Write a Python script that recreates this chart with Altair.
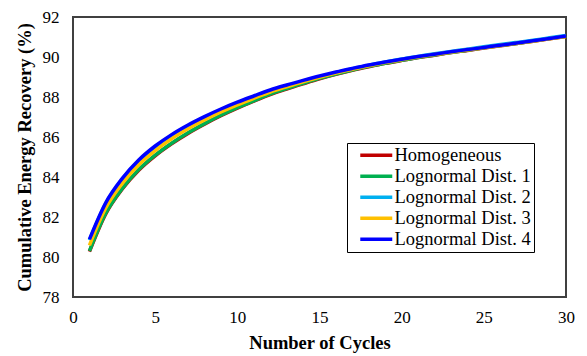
import altair as alt
import pandas as pd

cycles = list(range(1, 31))

homogeneous = [80.27, 82.17, 83.40, 84.34, 85.06, 85.66, 86.18, 86.64, 87.06, 87.44,
               87.79, 88.12, 88.40, 88.66, 88.91, 89.13, 89.33, 89.51, 89.68, 89.83,
               89.97, 90.09, 90.22, 90.33, 90.45, 90.56, 90.67, 90.79, 90.91, 91.03]
dist1 = [80.30, 82.20, 83.43, 84.37, 85.09, 85.69, 86.21, 86.67, 87.09, 87.47,
         87.81, 88.14, 88.42, 88.68, 88.93, 89.15, 89.35, 89.53, 89.69, 89.84,
         89.98, 90.10, 90.23, 90.34, 90.46, 90.57, 90.68, 90.80, 90.92, 91.04]
dist2 = [80.84, 82.68, 83.89, 84.81, 85.51, 86.08, 86.56, 86.98, 87.36, 87.70,
         88.01, 88.31, 88.56, 88.79, 89.01, 89.22, 89.41, 89.59, 89.75, 89.90,
         90.03, 90.16, 90.28, 90.39, 90.51, 90.62, 90.73, 90.84, 90.96, 91.08]
dist3 = [80.58, 82.46, 83.68, 84.61, 85.32, 85.91, 86.41, 86.85, 87.25, 87.61,
         87.93, 88.25, 88.51, 88.76, 88.99, 89.20, 89.39, 89.56, 89.72, 89.86,
         90.00, 90.12, 90.24, 90.35, 90.46, 90.57, 90.68, 90.79, 90.91, 91.03]
dist4 = [80.88, 82.72, 83.93, 84.85, 85.55, 86.12, 86.60, 87.02, 87.40, 87.74,
         88.05, 88.35, 88.60, 88.83, 89.05, 89.25, 89.43, 89.60, 89.75, 89.89,
         90.02, 90.14, 90.26, 90.37, 90.48, 90.59, 90.70, 90.81, 90.93, 91.05]

series_names = ["Homogeneous", "Lognormal Dist. 1", "Lognormal Dist. 2",
                "Lognormal Dist. 3", "Lognormal Dist. 4"]
series_values = [homogeneous, dist1, dist2, dist3, dist4]
series_colors = ["#C00000", "#00B050", "#00B0F0", "#FFC000", "#0000FF"]

x_ticks = [0, 5, 10, 15, 20, 25, 30]
y_ticks = [78, 80, 82, 84, 86, 88, 90, 92]

rows = []
for name, vals in zip(series_names, series_values):
    for c, v in zip(cycles, vals):
        rows.append({"Cycle": c, "Recovery": v, "Series": name})
df = pd.DataFrame(rows)

SERIF = "Liberation Serif"

color_scale = alt.Scale(domain=series_names, range=series_colors)
legend = alt.Legend(
    title=None, orient="none", legendX=274, legendY=126,
    strokeColor="black", fillColor="white", padding=3,
    labelFont=SERIF, labelFontSize=18.5, labelColor="black",
    labelExpr="datum.label + '\u00a0\u00a0'",
    symbolType="M0.17,0H5.5", symbolSize=144, symbolStrokeWidth=3.5,
    labelOffset=26, rowPadding=2,
)

x_enc = alt.X("Cycle:Q", scale=alt.Scale(domain=[0, 30], nice=False),
              axis=alt.Axis(values=x_ticks, title="Number of Cycles", grid=False,
                            ticks=False, tickSize=0, domain=False, labelPadding=12,
                            labelFlush=False,
                            labelFont=SERIF, labelFontSize=17, labelColor="black",
                            titleFont=SERIF, titleFontSize=18.5, titleFontWeight="bold",
                            titleColor="black", titlePadding=8))
y_enc = alt.Y("Recovery:Q", scale=alt.Scale(domain=[78, 92], nice=False),
              axis=alt.Axis(values=y_ticks, title="Cumulative Energy Recovery (%)",
                            grid=False, ticks=False, tickSize=0, domain=False,
                            labelPadding=14, labelFlush=False,
                            labelFont=SERIF, labelFontSize=17,
                            labelColor="black", titleFont=SERIF, titleFontSize=18.5,
                            titleFontWeight="bold", titleColor="black", titlePadding=8))

layers = []
for name in series_names:
    layers.append(
        alt.Chart(df).transform_filter(alt.datum.Series == name)
        .mark_line(strokeWidth=3.5, interpolate="monotone")
        .encode(x=x_enc, y=y_enc,
                color=alt.Color("Series:N", scale=color_scale, legend=legend))
    )

chart = alt.layer(*layers).properties(
    width=493, height=280,
    padding={"left": 73, "top": 17, "right": 21, "bottom": 59},
    autosize=alt.AutoSizeParams(type="none"),
    background="white",
).configure(font=SERIF).configure_view(stroke="#404040", strokeWidth=2)

chart.save("out.html", embed_options={"renderer": "svg", "actions": False})
